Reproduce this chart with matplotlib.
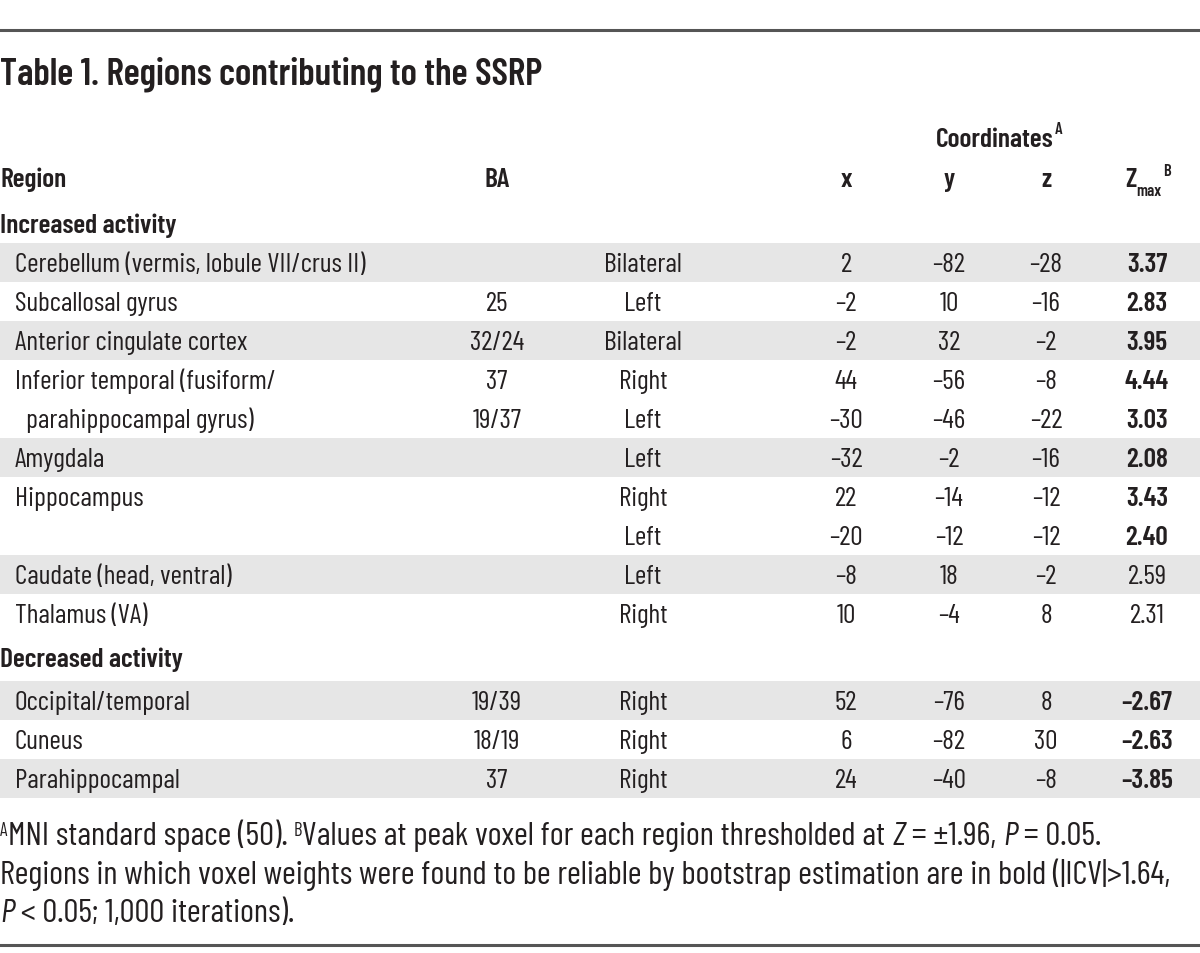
import matplotlib
matplotlib.use("Agg")
import matplotlib.pyplot as plt
from matplotlib.patches import Rectangle
from matplotlib import font_manager as fm

# pick a condensed face that is installed, keep DejaVu as glyph fallback
installed = {f.name for f in fm.fontManager.ttflist}
wanted = ["Barlow Condensed", "Fira Sans Extra Condensed", "Roboto Condensed", "Archivo Narrow",
          "Fira Sans Condensed", "IBM Plex Sans Condensed", "Open Sans Condensed"]
FONT = [f for f in wanted if f in installed][:1] + ["DejaVu Sans"]
plt.rcParams["font.family"] = FONT

W, H = 1200, 954
SHADE = "#e6e6e6"; INK = "#231f20"; RULE = "#555555"
BOLD = "semibold"

# ---- data ----
groups = ["Increased activity", "Decreased activity"]
group_len = [10, 3]
regions = ["Cerebellum (vermis, lobule VII/crus II)", "Subcallosal gyrus", "Anterior cingulate cortex",
           "Inferior temporal (fusiform/", "  parahippocampal gyrus)", "Amygdala", "Hippocampus", "",
           "Caudate (head, ventral)", "Thalamus (VA)",
           "Occipital/temporal", "Cuneus", "Parahippocampal"]
ba = ["", "25", "32/24", "37", "19/37", "", "", "", "", "", "19/39", "18/19", "37"]
side = ["Bilateral", "Left", "Bilateral", "Right", "Left", "Left", "Right", "Left", "Left", "Right",
        "Right", "Right", "Right"]
cx = [2, -2, -2, 44, -30, -32, 22, -20, -8, 10, 52, 6, 24]
cy = [-82, 10, 32, -56, -46, -2, -14, -12, 18, -4, -76, -82, -40]
cz = [-28, -16, -2, -8, -22, -16, -12, -12, -2, 8, 8, 30, -8]
zmax = [3.37, 2.83, 3.95, 4.44, 3.03, 2.08, 3.43, 2.40, 2.59, 2.31, -2.67, -2.63, -3.85]
bold = [True] * 8 + [False, False] + [True] * 3
shaded = [True, False, True, False, False, True, False, False, True, False, True, False, True]


def num(v, fmt="{:d}"):
    s = fmt.format(abs(v))
    return ("\u2013" + s) if v < 0 else s


fig = plt.figure(figsize=(W / 100, H / 100), dpi=100)
ax = fig.add_axes([0, 0, 1, 1])
ax.set_xlim(0, W); ax.set_ylim(H, 0); ax.axis("off")
renderer = fig.canvas.get_renderer()


def fit(s, target, **kw):
    t = ax.text(0, 0, s, fontsize=20, **kw)
    w = t.get_window_extent(renderer).width
    t.remove()
    return 20 * target / w


def chain(x, y, pieces, size):
    # place text pieces one after another on the same baseline
    for s, kw in pieces:
        kw = dict(kw)
        dy = kw.pop("dy", 0)
        sz = kw.pop("size", size)
        t = ax.text(x, y + dy, s, fontsize=sz, va="baseline", ha="left", color=INK, **kw)
        x += t.get_window_extent(renderer).width
    return x


BODY = fit("Cerebellum (vermis, lobule VII/crus II)", 351)
TITLE = fit("Table 1. Regions contributing to the SSRP", 541, fontweight=BOLD)
FN = fit("Regions in which voxel weights were found to be reliable by bootstrap estimation are in bold (|ICV|>1.64,", 1172)
SMALL = BODY * 0.6

# rules
ax.plot([0, W], [31, 31], color=RULE, lw=2.2)
ax.plot([0, W], [946, 946], color=RULE, lw=2.2)

ax.text(0, 84, "Table 1. Regions contributing to the SSRP", fontsize=TITLE, fontweight=BOLD,
        va="baseline", color=INK)

COL_BA, COL_SIDE, COL_X, COL_Y, COL_Z, COL_ZM = 497, 643, 846, 949, 1046, 1147

# header
hc = ax.text(995, 147, "Coordinates", fontsize=BODY, fontweight=BOLD, ha="center", va="baseline", color=INK)
x_end = 995 + hc.get_window_extent(renderer).width / 2
ax.text(x_end + 1, 134, "A", fontsize=SMALL, fontweight=BOLD, ha="left", va="baseline", color=INK)
hb = 187
ax.text(0, hb, "Region", fontsize=BODY, fontweight=BOLD, va="baseline", color=INK)
for xc, s in [(COL_BA, "BA"), (COL_X, "x"), (COL_Y, "y"), (COL_Z, "z")]:
    ax.text(xc, hb, s, fontsize=BODY, fontweight=BOLD, ha="center", va="baseline", color=INK)
chain(1125, hb, [("Z", {"fontweight": BOLD}),
                 ("max", {"size": SMALL, "dy": 9, "fontweight": BOLD})], BODY)
ax.text(1163, hb - 11, "B", fontsize=SMALL, fontweight=BOLD, va="baseline", color=INK)

# body rows
ROW_H = 39
tops = []
group_tops = [205, 634]
for g, (gname, n) in enumerate(zip(groups, group_len)):
    gt = group_tops[g]
    ghead_h = 39 if g == 0 else 48
    ax.text(0, gt + ghead_h / 2 + 9, gname, fontsize=BODY, fontweight=BOLD, va="baseline", color=INK)
    tops += [gt + ghead_h + ROW_H * k for k in range(n)]

for i, top in enumerate(tops):
    if shaded[i]:
        ax.add_patch(Rectangle((0, top), W, ROW_H, color=SHADE, lw=0, zorder=0))
    base = top + ROW_H / 2 + 9
    ax.text(15, base, regions[i], fontsize=BODY, va="baseline", color=INK)
    ax.text(COL_BA, base, ba[i], fontsize=BODY, ha="center", va="baseline", color=INK)
    ax.text(COL_SIDE, base, side[i], fontsize=BODY, ha="center", va="baseline", color=INK)
    ax.text(COL_X, base, num(cx[i]), fontsize=BODY, ha="center", va="baseline", color=INK)
    ax.text(COL_Y, base, num(cy[i]), fontsize=BODY, ha="center", va="baseline", color=INK)
    ax.text(COL_Z, base, num(cz[i]), fontsize=BODY, ha="center", va="baseline", color=INK)
    ax.text(COL_ZM, base, num(zmax[i], "{:.2f}"), fontsize=BODY, ha="center", va="baseline",
            fontweight=BOLD if bold[i] else "normal", color=INK)

# footnote
it = {"fontstyle": "italic"}
sup = {"size": FN * 0.55, "dy": -9}
chain(0, 845, [("A", sup), ("MNI standard space (50). ", {}), ("B", sup),
               ("Values at peak voxel for each region thresholded at ", {}), ("Z", it),
               (" = \u00b11.96, ", {}), ("P", it), (" = 0.05.", {})], FN)
chain(0, 884, [("Regions in which voxel weights were found to be reliable by bootstrap estimation are in bold (|ICV|>1.64,", {})], FN)
chain(0, 922, [("P", it), (" < 0.05; 1,000 iterations).", {})], FN)

fig.savefig("out.png", dpi=100)
